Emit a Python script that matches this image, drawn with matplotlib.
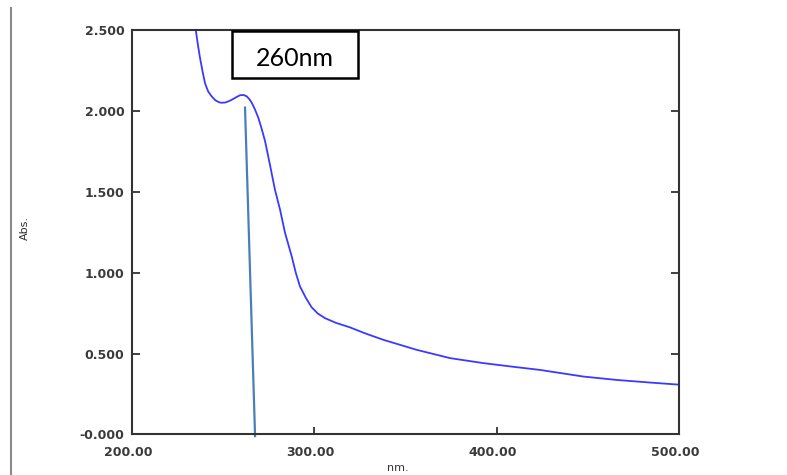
import matplotlib
matplotlib.use("Agg")
import matplotlib.pyplot as plt
import matplotlib.transforms as mtransforms
from matplotlib.patches import Rectangle
from matplotlib.lines import Line2D

# ------------ data ------------------------------------
wavelength = [234.0, 235.2, 236.5, 237.5, 239.0, 240.3, 242.0, 243.9, 246.0, 248.0,
              249.4, 251.5, 254.0, 257.0, 259.5, 261.5, 263.1, 264.6, 265.9, 267.6,
              269.5, 271.3, 273.2, 275.8, 278.6, 281.4, 284.1, 287.8, 290.0, 292.3,
              295.5, 298.7, 302.0, 306.0, 312.0, 319.7, 328.0, 338.0, 356.3, 374.5,
              392.8, 408.0, 423.8, 447.6, 465.9, 484.1, 500.0]
absorbance = [2.58, 2.50, 2.40, 2.33, 2.24, 2.17, 2.12, 2.09, 2.065, 2.053,
              2.05, 2.052, 2.063, 2.082, 2.097, 2.098, 2.09, 2.072, 2.05, 2.01,
              1.957, 1.89, 1.812, 1.67, 1.513, 1.389, 1.247, 1.10, 1.00, 0.915,
              0.845, 0.786, 0.748, 0.719, 0.69, 0.662, 0.625, 0.585, 0.523, 0.472,
              0.441, 0.42, 0.399, 0.358, 0.337, 0.321, 0.308]

# hand drawn marker line pointing at the peak
marker_x = [262.2, 267.7]
marker_y = [2.02, -0.01]
marker_label = "260nm"

x_ticks = [200, 300, 400, 500]
x_tick_labels = ["200.00", "300.00", "400.00", "500.00"]
y_ticks = [0.0, 0.5, 1.0, 1.5, 2.0, 2.5]
y_tick_labels = ["-0.000", "0.500", "1.000", "1.500", "2.000", "2.500"]

# ------------ figure --------------
fig = plt.figure(figsize=(7.87, 4.75), dpi=100)
ax = fig.add_axes([0.1671, 0.0853, 0.6957, 0.8516])

ax.plot(wavelength, absorbance, color="#3a3aff", lw=1.3)
ax.plot(marker_x, marker_y, color="#4a7ebb", lw=1.6, clip_on=False)

ax.set_xlim(200, 500)
ax.set_ylim(0, 2.5)

tick_font = dict(family="DejaVu Sans", weight="bold", size=9)
ax.set_xticks(x_ticks)
ax.set_xticklabels(x_tick_labels, color="#3a3a3a", **tick_font)
ax.set_yticks(y_ticks)
ax.set_yticklabels(y_tick_labels, color="#3a3a3a", **tick_font)
ax.tick_params(axis="y", direction="in", length=6, width=1.3, color="#333333",
               right=True, pad=5)
ax.tick_params(axis="x", direction="in", length=5, width=1.3, color="#333333", pad=8)

# x labels sit a few pixels left of their ticks in the original
shift = mtransforms.ScaledTranslation(-3.5 / 100, 0, fig.dpi_scale_trans)
for lab in ax.get_xticklabels():
    lab.set_transform(lab.get_transform() + shift)

for sp in ax.spines.values():
    sp.set_color("#333333")
    sp.set_linewidth(1.5)

fig.text(25 / 787, 1 - 228 / 475, "Abs.", rotation=90, ha="center", va="center",
         fontsize=8, color="#333333")
fig.text(398 / 787, 1 - 468 / 475, "nm.", ha="center", va="center",
         fontsize=8, color="#333333")

# gray frame line on the left edge
fig.add_artist(Line2D([11 / 787, 11 / 787], [0, 1 - 8 / 475], transform=fig.transFigure,
                      color="#8a8a8a", lw=1.5))

# label box
box = Rectangle((232 / 787, 1 - 78.5 / 475), 126 / 787, 47.5 / 475,
                transform=fig.transFigure, facecolor="white", edgecolor="black", lw=1.8)
fig.add_artist(box)
fig.text(295 / 787, 1 - 59 / 475, marker_label, ha="center", va="center",
         fontsize=18, family="Lato", color="black")

fig.savefig("out.png", dpi=100)
